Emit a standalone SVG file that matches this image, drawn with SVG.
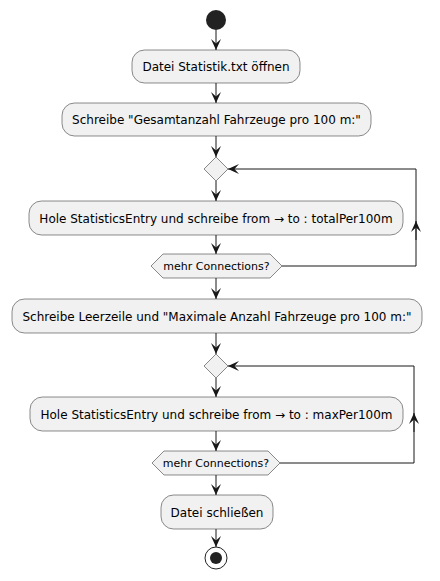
<svg xmlns="http://www.w3.org/2000/svg" width="440" height="581" viewBox="0 0 440 581">
<defs>
<style>
.box{fill:#F1F1F1;stroke:#181818;stroke-width:0.5}
.t{font-family:"DejaVu Sans",sans-serif;font-size:12px;fill:#000}
.d{font-family:"DejaVu Sans",sans-serif;font-size:11px;fill:#000}
.ln{stroke:#181818;stroke-width:1;fill:none}
</style>
<marker id="ah" viewBox="0 0 11 10" refX="11" refY="5" markerWidth="11" markerHeight="10" markerUnits="userSpaceOnUse" orient="auto">
<polygon points="0,0 11,5 0,10 4.5,5" fill="#181818"/>
</marker>
</defs>
<rect width="440" height="581" fill="#FFFFFF"/>
<g id="connectors">
<line class="ln" x1="216" y1="30" x2="216" y2="50" marker-end="url(#ah)"/>
<line class="ln" x1="216" y1="83" x2="216" y2="103" marker-end="url(#ah)"/>
<line class="ln" x1="216" y1="136" x2="216" y2="157" marker-end="url(#ah)"/>
<line class="ln" x1="216" y1="181" x2="216" y2="201" marker-end="url(#ah)"/>
<line class="ln" x1="216" y1="235" x2="216" y2="254" marker-end="url(#ah)"/>
<line class="ln" x1="216" y1="278" x2="216" y2="299" marker-end="url(#ah)"/>
<line class="ln" x1="216" y1="333" x2="216" y2="354" marker-end="url(#ah)"/>
<line class="ln" x1="216" y1="378" x2="216" y2="397" marker-end="url(#ah)"/>
<line class="ln" x1="216" y1="431" x2="216" y2="451" marker-end="url(#ah)"/>
<line class="ln" x1="216" y1="475" x2="216" y2="495" marker-end="url(#ah)"/>
<line class="ln" x1="216" y1="529" x2="216" y2="547" marker-end="url(#ah)"/>
<polyline class="ln" points="282,266 416,266 416,169 228,169" marker-end="url(#ah)"/>
<line class="ln" x1="416" y1="240" x2="416" y2="221" marker-end="url(#ah)"/>
<polyline class="ln" points="280,463 414,463 414,366 228,366" marker-end="url(#ah)"/>
<line class="ln" x1="414" y1="432" x2="414" y2="413" marker-end="url(#ah)"/>
</g>
<g id="start"><circle cx="216" cy="20" r="10" fill="#222222"/></g>
<g id="open"><rect class="box" x="132" y="50" width="168" height="33" rx="12.5"/><text class="t" x="216" y="71" text-anchor="middle">Datei Statistik.txt öffnen</text></g>
<g id="header1"><rect class="box" x="62" y="103" width="309" height="33" rx="12.5"/><text class="t" x="216.5" y="124" text-anchor="middle">Schreibe "Gesamtanzahl Fahrzeuge pro 100 m:"</text></g>
<g id="merge1"><polygon class="box" points="216,157 228,169 216,181 204,169"/></g>
<g id="loop1"><rect class="box" x="29" y="201" width="374" height="34" rx="12.5"/><text class="t" x="216" y="222.5" text-anchor="middle">Hole StatisticsEntry und schreibe from → to : totalPer100m</text></g>
<g id="cond1"><polygon class="box" points="151,266 163,254 270,254 282,266 270,278 163,278"/><text class="d" x="216.5" y="270" text-anchor="middle">mehr Connections?</text></g>
<g id="header2"><rect class="box" x="12" y="299" width="410" height="34" rx="12.5"/><text class="t" x="217" y="320.5" text-anchor="middle">Schreibe Leerzeile und "Maximale Anzahl Fahrzeuge pro 100 m:"</text></g>
<g id="merge2"><polygon class="box" points="216,354 228,366 216,378 204,366"/></g>
<g id="loop2"><rect class="box" x="30" y="397" width="373" height="34" rx="12.5"/><text class="t" x="216.5" y="418.5" text-anchor="middle">Hole StatisticsEntry und schreibe from → to : maxPer100m</text></g>
<g id="cond2"><polygon class="box" points="152,463 164,451 268,451 280,463 268,475 164,475"/><text class="d" x="216" y="467" text-anchor="middle">mehr Connections?</text></g>
<g id="close"><rect class="box" x="161" y="495" width="112" height="34" rx="12.5"/><text class="t" x="217" y="516.5" text-anchor="middle">Datei schließen</text></g>
<g id="end"><circle cx="216" cy="558" r="11" fill="none" stroke="#222222" stroke-width="1"/><circle cx="216" cy="558" r="6" fill="#222222"/></g>
</svg>
